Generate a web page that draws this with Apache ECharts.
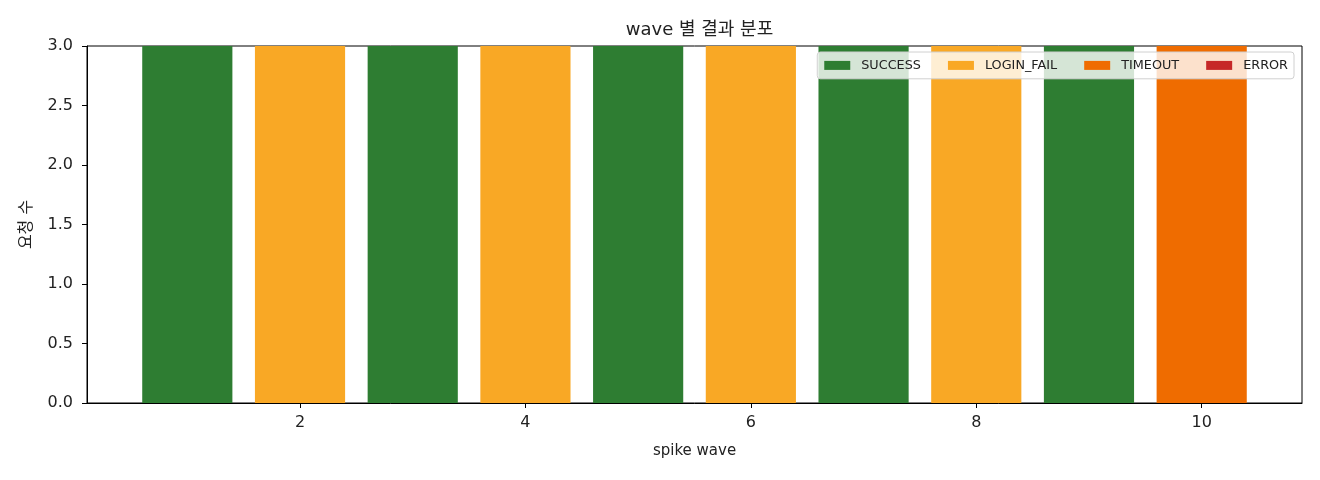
<!DOCTYPE html>
<html>
<head>
<meta charset="utf-8">
<script src="https://cdn.jsdelivr.net/npm/echarts@6/dist/echarts.min.js"></script>
<style>
html,body{margin:0;padding:0;background:#fff;}
#chart{width:1320px;height:480px;}
</style>
</head>
<body>
<div id="chart"></div>
<script>
const waves = [1,2,3,4,5,6,7,8,9,10];
const seriesNames = ['SUCCESS','LOGIN_FAIL','TIMEOUT','ERROR'];
const seriesColors = ['#2e7d32','#f9a825','#ef6c00','#c62828'];
const successCounts   = [3,0,3,0,3,0,3,0,3,0];
const loginFailCounts = [0,3,0,3,0,3,0,3,0,0];
const timeoutCounts   = [0,0,0,0,0,0,0,0,0,3];
const errorCounts     = [0,0,0,0,0,0,0,0,0,0];
const xTicks = [2,4,6,8,10];

const FONT = '"DejaVu Sans", "Noto Sans CJK KR", sans-serif';
const allCounts = [successCounts, loginFailCounts, timeoutCounts, errorCounts];

const chart = echarts.init(document.getElementById('chart'));
const gridLeft = 87, gridRight = 1320-1302, gridTop = 46, gridBottom = 480-403;
const xMin = 0.11, xMax = 10.89;
const pxPerUnit = (1320 - gridLeft - gridRight) / (xMax - xMin);

chart.setOption({
  animation: false,
  textStyle: { fontFamily: FONT },
  title: {
    text: 'wave 별 결과 분포',
    left: (gridLeft + 1302) / 2, textAlign: 'center', top: 16,
    textStyle: { fontFamily: FONT, fontSize: 18, fontWeight: 'normal', color: '#222' }
  },
  legend: {
    data: seriesNames,
    right: 1320 - 1294, top: 52,
    orient: 'horizontal',
    itemWidth: 26, itemHeight: 9, itemGap: 27,
    padding: [7, 6, 7, 7],
    backgroundColor: 'rgba(255,255,255,0.8)',
    borderColor: '#d0d0d0', borderWidth: 1, borderRadius: 3,
    icon: 'rect',
    textStyle: { fontFamily: FONT, fontSize: 12.8, color: '#222', padding: [0,0,0,6] }
  },
  grid: {
    left: gridLeft, right: gridRight, top: gridTop, bottom: gridBottom,
    show: true, borderColor: '#000', borderWidth: 1, backgroundColor: 'transparent'
  },
  xAxis: {
    type: 'value', min: xMin, max: xMax,
    name: 'spike wave', nameLocation: 'middle', nameGap: 41,
    nameTextStyle: { fontFamily: FONT, fontSize: 15, color: '#222' },
    splitLine: { show: false },
    axisLine: { show: true, lineStyle: { color: '#000' } },
    axisTick: { show: true, length: 5, lineStyle: { color: '#000' },
      customValues: xTicks },
    axisLabel: { fontFamily: FONT, fontSize: 16, color: '#222', margin: 12,
      customValues: xTicks, formatter: v => String(v) }
  },
  yAxis: {
    type: 'value', min: 0, max: 3, interval: 0.5,
    name: '요청 수', nameLocation: 'middle', nameGap: 52,
    nameTextStyle: { fontFamily: FONT, fontSize: 16, color: '#222' },
    splitLine: { show: false },
    axisLine: { show: true, lineStyle: { color: '#000' } },
    axisTick: { show: true, length: 5, lineStyle: { color: '#000' } },
    axisLabel: { fontFamily: FONT, fontSize: 16, color: '#222', margin: 14,
      formatter: v => v.toFixed(1) }
  },
  series: seriesNames.map((name, i) => ({
    name, type: 'bar', stack: 'total',
    barWidth: 0.8 * pxPerUnit,
    itemStyle: { color: seriesColors[i] },
    data: waves.map((w, j) => [w, allCounts[i][j] === 0 ? null : allCounts[i][j]])
  }))
});
</script>
</body>
</html>
